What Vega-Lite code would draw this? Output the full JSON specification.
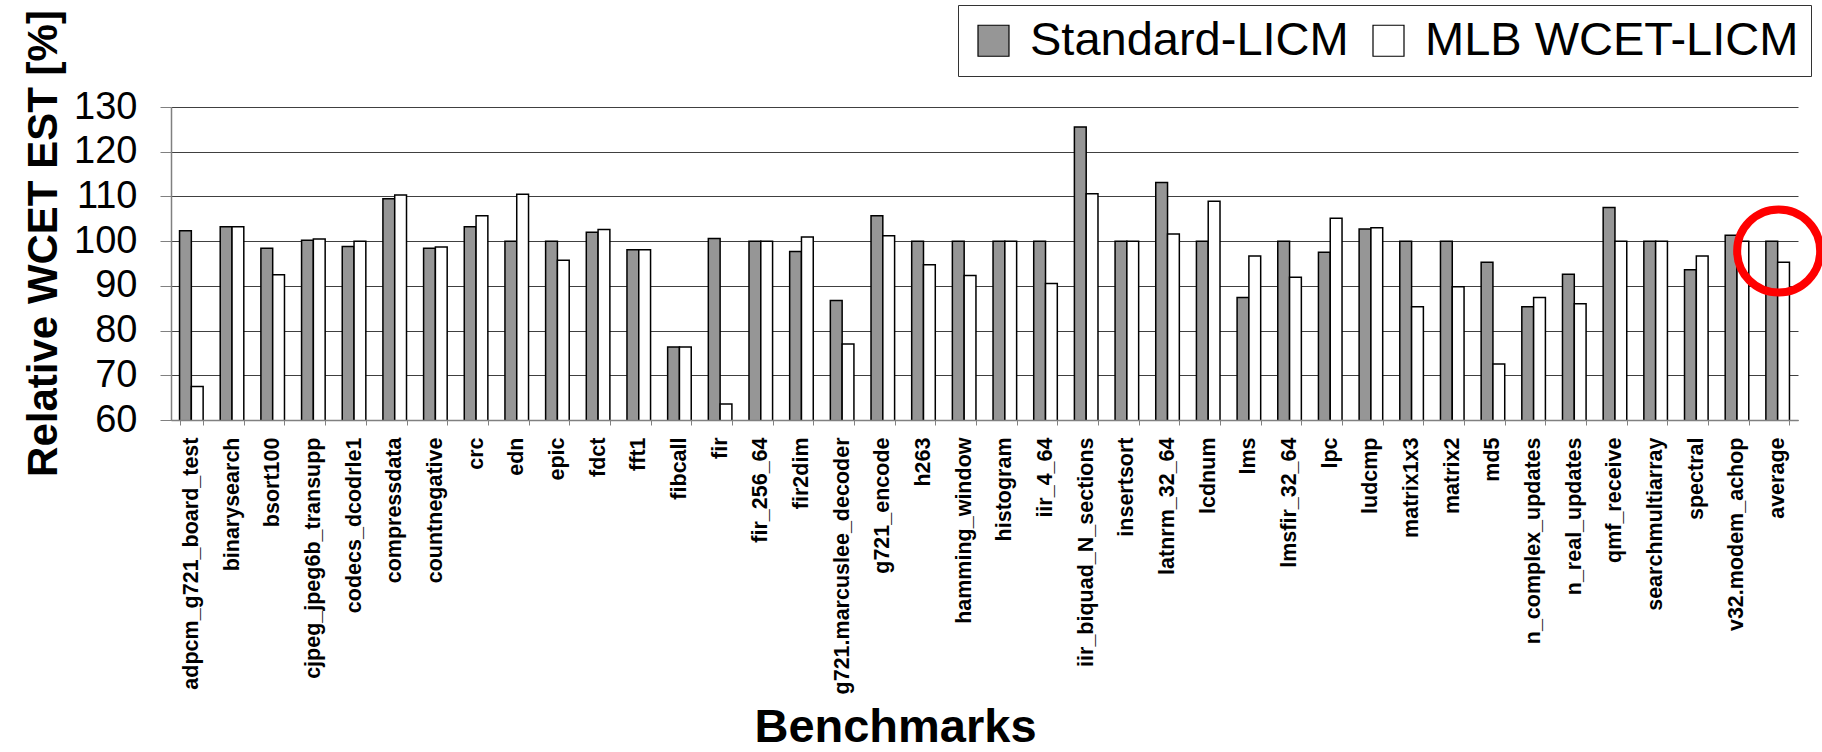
{
  "$schema": "https://vega.github.io/schema/vega-lite/v6.json",
  "width": 1627,
  "height": 313,
  "autosize": {"type": "none"},
  "padding": {"left": 171, "top": 107, "right": 24, "bottom": 332},
  "background": "white",
  "config": {
    "font": "Liberation Sans",
    "view": {"stroke": null},
    "axis": {"labelColor": "black", "titleColor": "black", "labelFont": "Liberation Sans", "titleFont": "Liberation Sans"}
  },
  "datasets": {
    "bars": [
      {"benchmark": "adpcm_g721_board_test", "method": "Standard-LICM", "value": 102.3},
      {"benchmark": "adpcm_g721_board_test", "method": "MLB WCET-LICM", "value": 67.5},
      {"benchmark": "binarysearch", "method": "Standard-LICM", "value": 103.2},
      {"benchmark": "binarysearch", "method": "MLB WCET-LICM", "value": 103.2},
      {"benchmark": "bsort100", "method": "Standard-LICM", "value": 98.4},
      {"benchmark": "bsort100", "method": "MLB WCET-LICM", "value": 92.5},
      {"benchmark": "cjpeg_jpeg6b_transupp", "method": "Standard-LICM", "value": 100.2},
      {"benchmark": "cjpeg_jpeg6b_transupp", "method": "MLB WCET-LICM", "value": 100.5},
      {"benchmark": "codecs_dcodrle1", "method": "Standard-LICM", "value": 98.8},
      {"benchmark": "codecs_dcodrle1", "method": "MLB WCET-LICM", "value": 100},
      {"benchmark": "compressdata", "method": "Standard-LICM", "value": 109.5},
      {"benchmark": "compressdata", "method": "MLB WCET-LICM", "value": 110.3},
      {"benchmark": "countnegative", "method": "Standard-LICM", "value": 98.4},
      {"benchmark": "countnegative", "method": "MLB WCET-LICM", "value": 98.7},
      {"benchmark": "crc", "method": "Standard-LICM", "value": 103.2},
      {"benchmark": "crc", "method": "MLB WCET-LICM", "value": 105.7},
      {"benchmark": "edn", "method": "Standard-LICM", "value": 100},
      {"benchmark": "edn", "method": "MLB WCET-LICM", "value": 110.5},
      {"benchmark": "epic", "method": "Standard-LICM", "value": 100},
      {"benchmark": "epic", "method": "MLB WCET-LICM", "value": 95.7},
      {"benchmark": "fdct", "method": "Standard-LICM", "value": 102.0},
      {"benchmark": "fdct", "method": "MLB WCET-LICM", "value": 102.6},
      {"benchmark": "fft1", "method": "Standard-LICM", "value": 98.1},
      {"benchmark": "fft1", "method": "MLB WCET-LICM", "value": 98.1},
      {"benchmark": "fibcall", "method": "Standard-LICM", "value": 76.3},
      {"benchmark": "fibcall", "method": "MLB WCET-LICM", "value": 76.3},
      {"benchmark": "fir", "method": "Standard-LICM", "value": 100.6},
      {"benchmark": "fir", "method": "MLB WCET-LICM", "value": 63.6},
      {"benchmark": "fir_256_64", "method": "Standard-LICM", "value": 100},
      {"benchmark": "fir_256_64", "method": "MLB WCET-LICM", "value": 100},
      {"benchmark": "fir2dim", "method": "Standard-LICM", "value": 97.7},
      {"benchmark": "fir2dim", "method": "MLB WCET-LICM", "value": 100.9},
      {"benchmark": "g721.marcuslee_decoder", "method": "Standard-LICM", "value": 86.7},
      {"benchmark": "g721.marcuslee_decoder", "method": "MLB WCET-LICM", "value": 77.0},
      {"benchmark": "g721_encode", "method": "Standard-LICM", "value": 105.7},
      {"benchmark": "g721_encode", "method": "MLB WCET-LICM", "value": 101.2},
      {"benchmark": "h263", "method": "Standard-LICM", "value": 100},
      {"benchmark": "h263", "method": "MLB WCET-LICM", "value": 94.7},
      {"benchmark": "hamming_window", "method": "Standard-LICM", "value": 100},
      {"benchmark": "hamming_window", "method": "MLB WCET-LICM", "value": 92.3},
      {"benchmark": "histogram", "method": "Standard-LICM", "value": 100},
      {"benchmark": "histogram", "method": "MLB WCET-LICM", "value": 100},
      {"benchmark": "iir_4_64", "method": "Standard-LICM", "value": 100},
      {"benchmark": "iir_4_64", "method": "MLB WCET-LICM", "value": 90.5},
      {"benchmark": "iir_biquad_N_sections", "method": "Standard-LICM", "value": 125.5},
      {"benchmark": "iir_biquad_N_sections", "method": "MLB WCET-LICM", "value": 110.6},
      {"benchmark": "insertsort", "method": "Standard-LICM", "value": 100},
      {"benchmark": "insertsort", "method": "MLB WCET-LICM", "value": 100},
      {"benchmark": "latnrm_32_64", "method": "Standard-LICM", "value": 113.1},
      {"benchmark": "latnrm_32_64", "method": "MLB WCET-LICM", "value": 101.6},
      {"benchmark": "lcdnum", "method": "Standard-LICM", "value": 100},
      {"benchmark": "lcdnum", "method": "MLB WCET-LICM", "value": 108.9},
      {"benchmark": "lms", "method": "Standard-LICM", "value": 87.4},
      {"benchmark": "lms", "method": "MLB WCET-LICM", "value": 96.7},
      {"benchmark": "lmsfir_32_64", "method": "Standard-LICM", "value": 100},
      {"benchmark": "lmsfir_32_64", "method": "MLB WCET-LICM", "value": 91.9},
      {"benchmark": "lpc", "method": "Standard-LICM", "value": 97.5},
      {"benchmark": "lpc", "method": "MLB WCET-LICM", "value": 105.1},
      {"benchmark": "ludcmp", "method": "Standard-LICM", "value": 102.7},
      {"benchmark": "ludcmp", "method": "MLB WCET-LICM", "value": 103.0},
      {"benchmark": "matrix1x3", "method": "Standard-LICM", "value": 100},
      {"benchmark": "matrix1x3", "method": "MLB WCET-LICM", "value": 85.3},
      {"benchmark": "matrix2", "method": "Standard-LICM", "value": 100},
      {"benchmark": "matrix2", "method": "MLB WCET-LICM", "value": 89.8},
      {"benchmark": "md5", "method": "Standard-LICM", "value": 95.3},
      {"benchmark": "md5", "method": "MLB WCET-LICM", "value": 72.5},
      {"benchmark": "n_complex_updates", "method": "Standard-LICM", "value": 85.3},
      {"benchmark": "n_complex_updates", "method": "MLB WCET-LICM", "value": 87.4},
      {"benchmark": "n_real_updates", "method": "Standard-LICM", "value": 92.6},
      {"benchmark": "n_real_updates", "method": "MLB WCET-LICM", "value": 86.0},
      {"benchmark": "qmf_receive", "method": "Standard-LICM", "value": 107.5},
      {"benchmark": "qmf_receive", "method": "MLB WCET-LICM", "value": 100},
      {"benchmark": "searchmultiarray", "method": "Standard-LICM", "value": 100},
      {"benchmark": "searchmultiarray", "method": "MLB WCET-LICM", "value": 100},
      {"benchmark": "spectral", "method": "Standard-LICM", "value": 93.6},
      {"benchmark": "spectral", "method": "MLB WCET-LICM", "value": 96.7},
      {"benchmark": "v32.modem_achop", "method": "Standard-LICM", "value": 101.3},
      {"benchmark": "v32.modem_achop", "method": "MLB WCET-LICM", "value": 100},
      {"benchmark": "average", "method": "Standard-LICM", "value": 100},
      {"benchmark": "average", "method": "MLB WCET-LICM", "value": 95.3}
    ],
    "highlight": [
      {"benchmark": "average", "value": 97.8}
    ]
  },
  "layer": [
    {
      "data": {"name": "bars"},
      "mark": {"type": "bar", "stroke": "black", "strokeWidth": 1.5, "opacity": 1, "clip": true},
      "encoding": {
        "x": {
          "field": "benchmark",
          "type": "nominal",
          "sort": null,
          "scale": {"paddingInner": 0.42, "paddingOuter": 0.21},
          "axis": {
            "title": "Benchmarks",
            "labelAngle": -90,
            "labelAlign": "right",
            "labelBaseline": "middle",
            "labelFontSize": 21.5,
            "labelFontWeight": "bold",
            "labelPadding": 12,
            "labelLimit": 0,
            "labelOverlap": false,
            "tickBand": "extent",
            "tickSize": 5,
            "tickColor": "#808080",
            "domainColor": "#808080",
            "domainWidth": 1.5,
            "grid": false,
            "zindex": 1,
            "titleFontSize": 47,
            "titleFontWeight": "bold",
            "titleX": 724,
            "titleY": 321,
            "titleBaseline": "alphabetic",
            "titleAlign": "center"
          }
        },
        "xOffset": {
          "field": "method",
          "type": "nominal",
          "sort": ["Standard-LICM", "MLB WCET-LICM"],
          "scale": {"paddingInner": 0, "paddingOuter": 0}
        },
        "y": {
          "field": "value",
          "type": "quantitative",
          "scale": {"domain": [60, 130], "nice": false, "zero": false},
          "axis": {
            "values": [60, 70, 80, 90, 100, 110, 120, 130],
            "title": "Relative WCET EST [%]",
            "labelFontSize": 38,
            "labelPadding": 23,
            "tickSize": 11,
            "tickColor": "#808080",
            "domainColor": "#808080",
            "domainWidth": 1.5,
            "gridColor": "#404040",
            "gridWidth": 1,
            "titleFontSize": 42,
            "titleFontWeight": "bold",
            "titleAngle": 270,
            "titleX": -115,
            "titleY": 136,
            "titleBaseline": "alphabetic",
            "titleAlign": "center"
          }
        },
        "color": {
          "field": "method",
          "type": "nominal",
          "sort": ["Standard-LICM", "MLB WCET-LICM"],
          "scale": {"domain": ["Standard-LICM", "MLB WCET-LICM"], "range": ["#969696", "#ffffff"]},
          "legend": {
            "orient": "none",
            "legendX": 787,
            "legendY": -102,
            "direction": "horizontal",
            "title": null,
            "labelFontSize": 47,
            "labelFont": "Liberation Sans",
            "labelColor": "black",
            "labelLimit": 0,
            "labelOffset": 13,
            "columnPadding": 16,
            "padding": 12,
            "strokeColor": "#333333",
            "fillColor": "white",
            "symbolType": "square",
            "symbolSize": 961,
            "symbolStrokeColor": "black",
            "symbolStrokeWidth": 1.2,
            "symbolOpacity": 1
          }
        }
      }
    },
    {
      "mark": {"type": "rule", "color": "black", "strokeWidth": 4},
      "encoding": {"y": {"datum": 100}}
    },
    {
      "data": {"name": "highlight"},
      "mark": {"type": "point", "shape": "circle", "filled": false, "color": "#ff0000", "strokeWidth": 8, "size": 6889, "opacity": 1, "xOffset": 1},
      "encoding": {
        "x": {"field": "benchmark", "type": "nominal", "sort": null},
        "y": {"field": "value", "type": "quantitative"}
      }
    }
  ]
}
